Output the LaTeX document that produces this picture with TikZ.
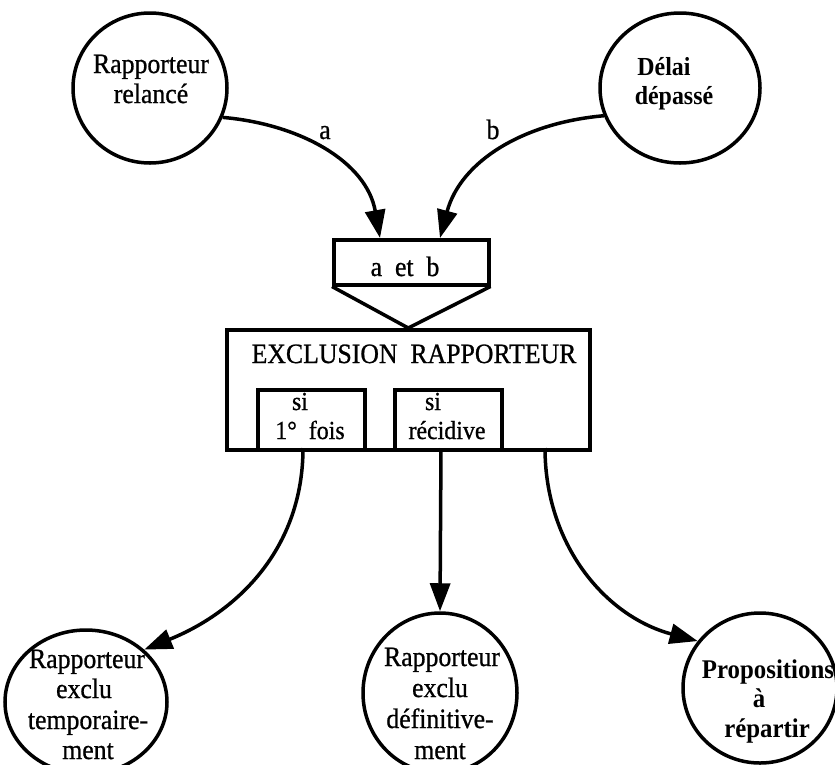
\documentclass[tikz,border=0pt]{standalone}
\usepackage{fontspec}
\setmainfont{Liberation Serif}
\newfontfamily\rfont{Liberation Serif}[FakeStretch=0.92,FakeBold=0.8]
\newfontfamily\bfont{Liberation Serif}[FakeStretch=0.92]
\usetikzlibrary{shapes.geometric, arrows.meta}
\begin{document}
\begin{tikzpicture}[x=1pt,y=1pt,
  line width=3.5pt,
  bubble/.style={draw, ellipse, inner sep=0pt},
  lbl/.style={inner sep=0pt, anchor=base, font=\fontsize{28}{30}\rfont},
  blbl/.style={inner sep=0pt, anchor=base, font=\fontsize{26}{30}\bfont\bfseries},
  pblbl/.style={inner sep=0pt, anchor=base, font=\fontsize{27}{30}\bfont\bfseries},
  slbl/.style={inner sep=0pt, anchor=base, font=\fontsize{26}{30}\rfont},
  boxn/.style={draw, rectangle, anchor=north west, inner sep=0pt},
  arr/.style={-{Triangle[length=28pt,width=20pt]}},
]
\useasboundingbox (0,0) rectangle (835,-764);
\clip (0,0) rectangle (835,-764);

% top circles
\node[bubble, minimum width=154pt, minimum height=150pt] (rr) at (150,-88) {};
\node[lbl] (rr1) at (151,-73) {Rapporteur};
\node[lbl] (rr2) at (151,-103) {relancé};

\node[bubble, minimum width=160pt, minimum height=150pt] (dd) at (680,-88) {};
\node[blbl] (dd1) at (664,-75) {Délai};
\node[blbl] (dd2) at (674,-104) {dépassé};

% a et b box
\node[boxn, minimum width=155pt, minimum height=45pt] (ab) at (332,-238) {};
\node[lbl] (abt) at (405,-276) {a~~et~~b};

% main box
\node[boxn, minimum width=363pt, minimum height=120pt] (main) at (225,-328) {};
\node[lbl] (maint) at (414,-363) {EXCLUSION~~RAPPORTEUR};
\draw (ab.south west) -- (main.north) -- (ab.south east);

% sub boxes
\node[boxn, minimum width=107pt, minimum height=60pt] (s1) at (256,-388) {};
\node[slbl] (s1a) at (300,-410) {si};
\node[slbl] (s1b) at (310,-439) {1°~~fois};
\node[boxn, minimum width=107pt, minimum height=60pt] (s2) at (393,-388) {};
\node[slbl] (s2a) at (433,-410) {si};
\node[slbl] (s2b) at (447,-439) {récidive};

% bottom circles
\node[bubble, minimum width=162pt, minimum height=144pt] (tl) at (86,-702) {};
\node[lbl] (tl1) at (87,-668) {Rapporteur};
\node[lbl] (tl2) at (84,-698) {exclu};
\node[lbl] (tl3) at (88,-729) {temporaire-};
\node[lbl] (tl4) at (88,-759) {ment};

\node[bubble, minimum width=154pt, minimum height=160pt] (md) at (440,-693) {};
\node[lbl] (md1) at (442,-666) {Rapporteur};
\node[lbl] (md2) at (440,-697) {exclu};
\node[lbl] (md3) at (440,-728) {définitive-};
\node[lbl] (md4) at (440,-759) {ment};

\node[bubble, minimum width=154pt, minimum height=150pt] (pr) at (760,-688) {};
\node[pblbl] (pr1) at (768,-678) {Propositions};
\node[pblbl] (pr2) at (759,-707) {à};
\node[pblbl] (pr3) at (767,-737) {répartir};

% connectors top
\coordinate (ta) at (380,-238);
\coordinate (tb) at (440,-238);
\draw[arr] (rr.-22) to[out=-5, in=100] (ta);
\draw[arr] (dd.200) to[out=185, in=75] (tb);
\node[lbl] (la) at (325,-139) {a};
\node[lbl] (lb) at (493,-139) {b};

% connectors bottom
\coordinate (o1) at (303,-448);
\coordinate (o2) at (441,-448);
\coordinate (o3) at (545,-448);
\draw[arr] (o1) to[out=-90, in=22] (tl.42);
\draw[arr] (o2) -- (md.north);
\draw[arr] (o3) to[out=-90, in=165] (pr.143);
\end{tikzpicture}
\end{document}
